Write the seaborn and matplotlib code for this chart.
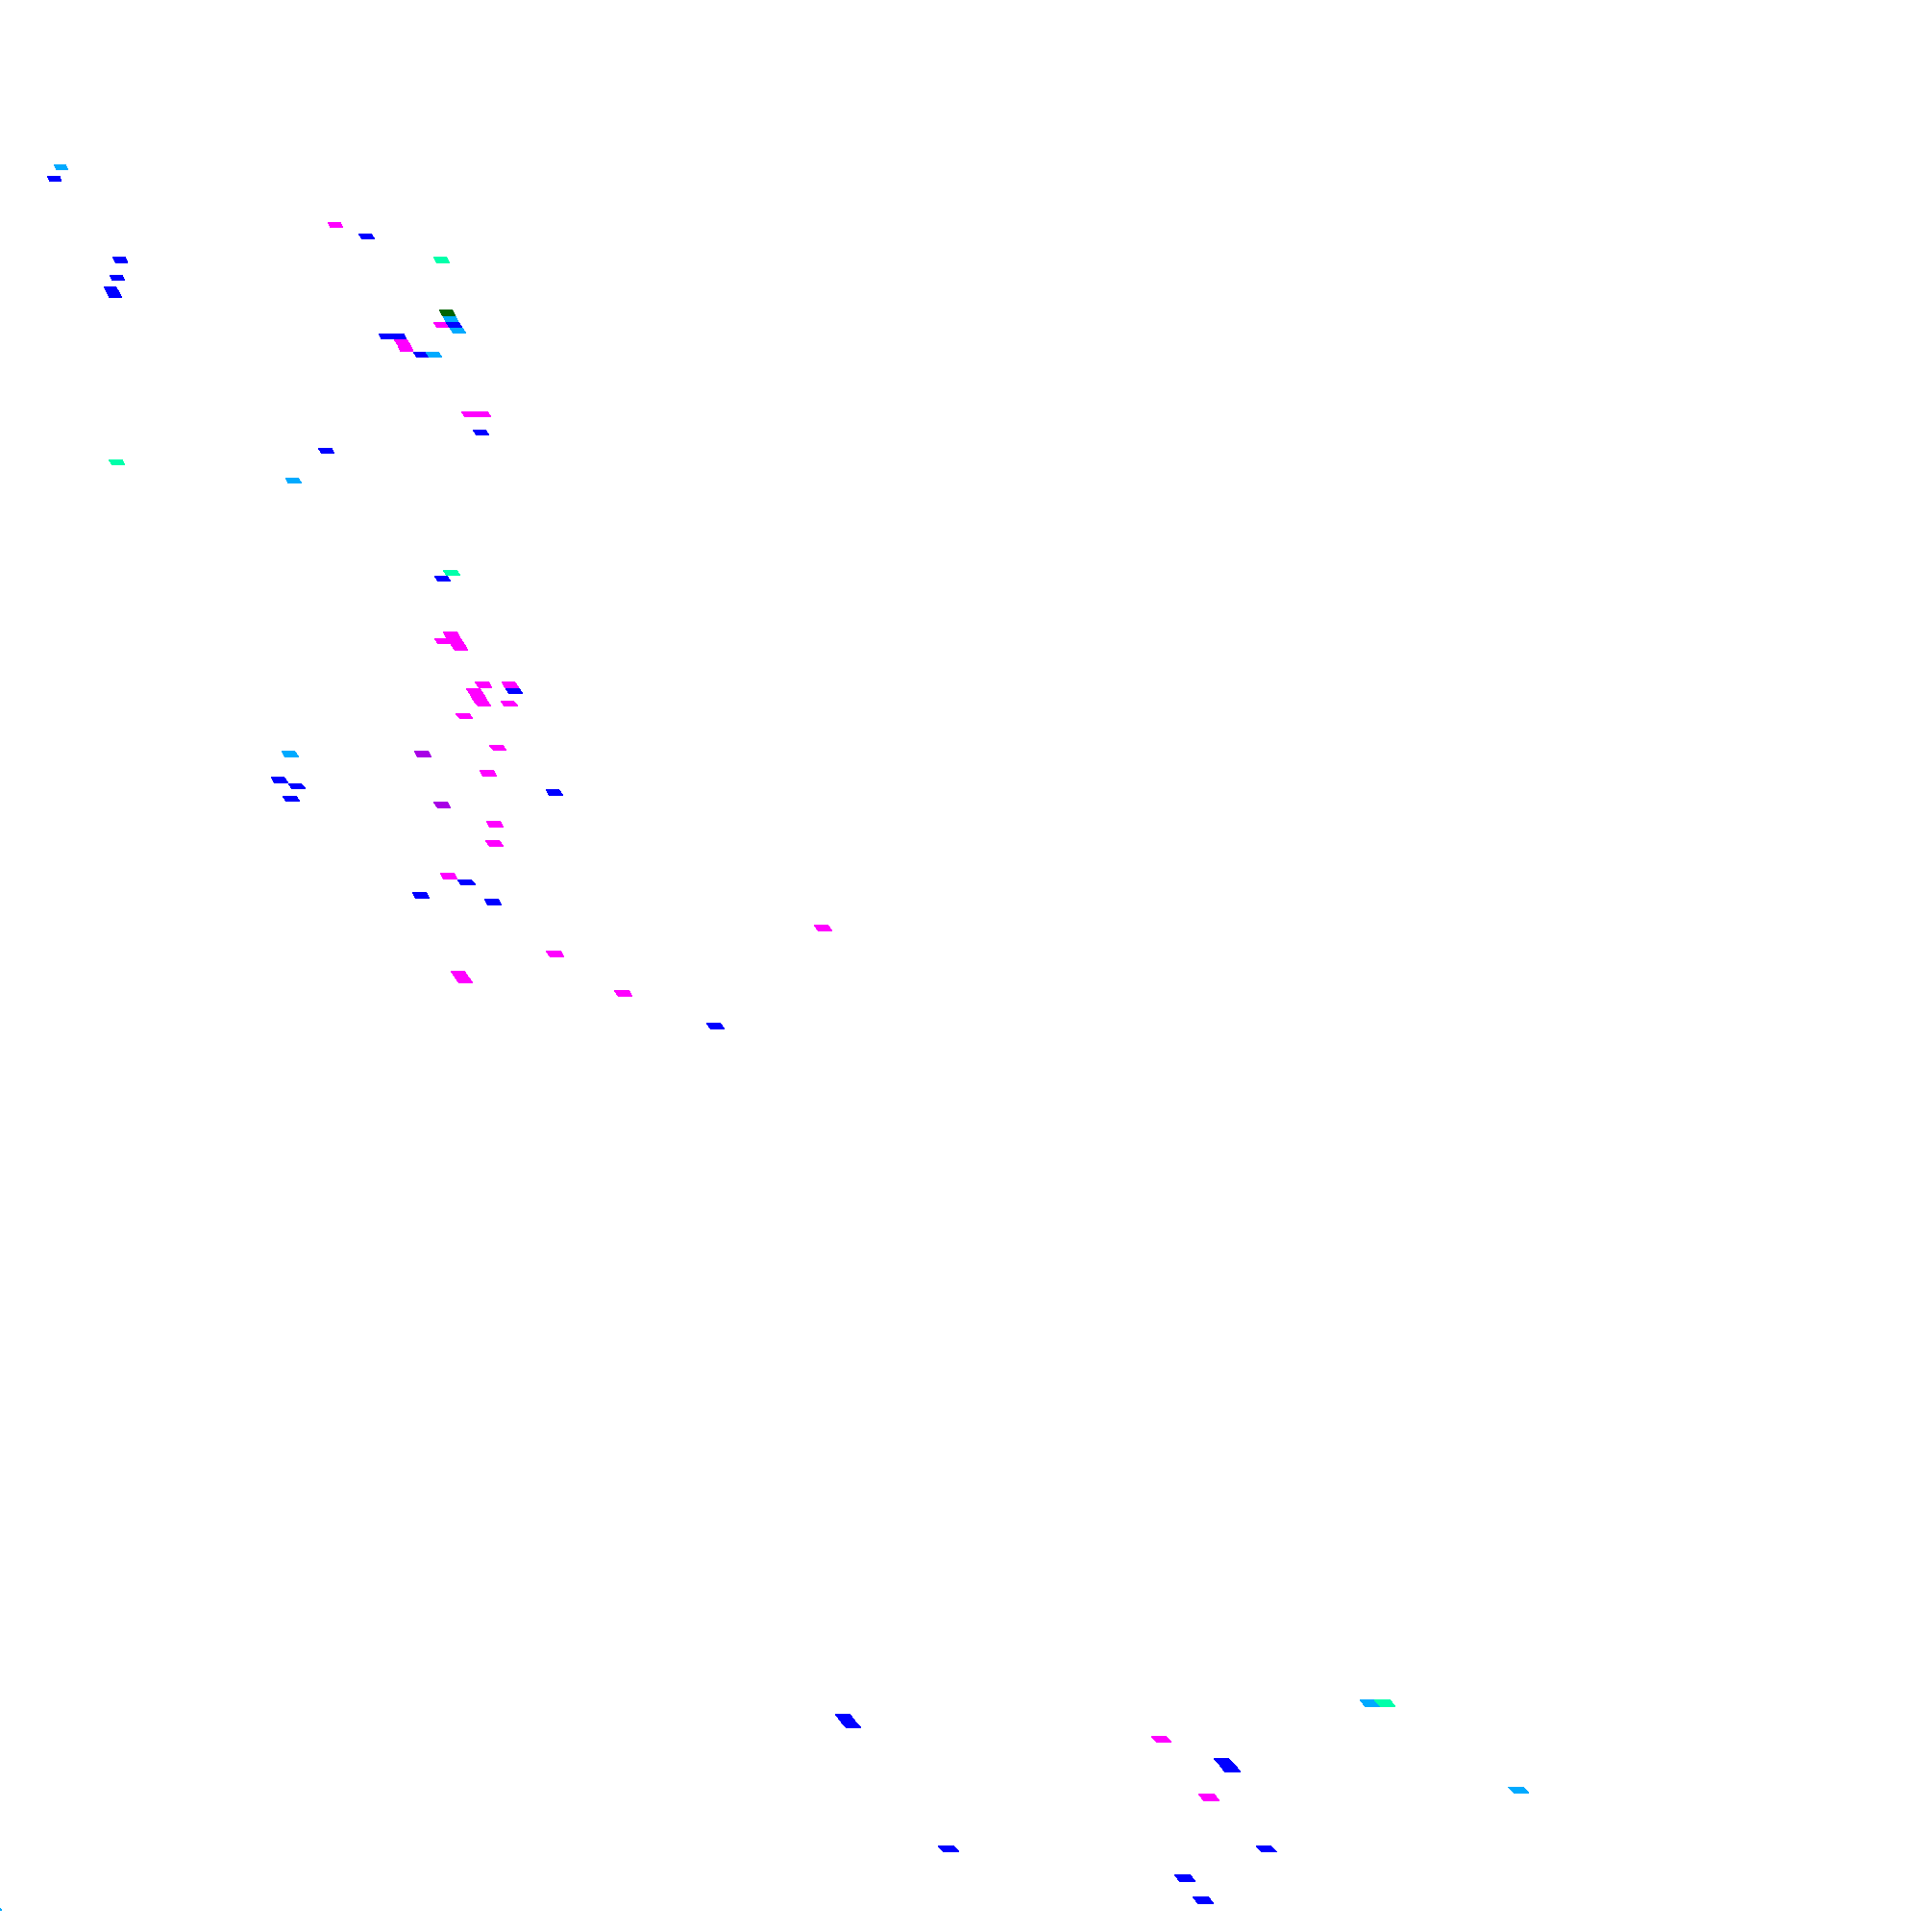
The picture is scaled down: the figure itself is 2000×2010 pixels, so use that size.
import numpy as np
import pandas as pd
import matplotlib
matplotlib.use("Agg")
import matplotlib.pyplot as plt
from matplotlib.colors import ListedColormap
from matplotlib.transforms import Transform
import seaborn as sns

# ---- data: occupied grid cells (row index, column index, category) ----
ROWS = [29, 31, 39, 41, 45, 45, 48, 50, 51,
        54, 55, 56, 56, 57,
        58, 58, 59, 60, 61, 61,
        71, 71, 74, 77, 79, 82,
        97, 98,
        107, 108, 108, 109,
        115, 116, 117, 118, 115, 116, 118, 120,
        126, 126, 125, 129, 130, 131, 132, 133, 134,
        137, 140, 145, 146, 148, 149, 153, 157, 160, 161, 163, 168,
        268, 269, 271, 266, 266, 274, 275, 279, 278, 286, 286, 290, 293, 294]
COLS = [88, 87, 108, 110, 115, 89, 88, 87, 87,
        113, 113, 112, 113, 113,
        107, 108, 108, 108, 109, 110,
        110, 111, 110, 97, 80, 93,
        101, 100,
        98, 97, 98, 98,
        98, 97, 97, 97, 100, 100, 99, 95,
        80, 90, 96, 94, 78, 79, 98, 78, 89,
        92, 91, 86, 87, 83, 88, 111, 90, 82, 82, 93, 98,
        71, 71, 91, 107, 108, 94, 94, 91, 112, 71, 92, 85, 85, 5]
CATS = [1, 0, 3, 0, 2, 0, 0, 0, 0,
        5, 1, 3, 0, 1,
        0, 0, 3, 3, 0, 1,
        3, 3, 0, 0, 2, 1,
        2, 0,
        3, 3, 3, 3,
        3, 3, 3, 3, 3, 0, 3, 3,
        1, 4, 3, 3, 0, 0, 0, 0, 4,
        3, 3, 3, 0, 0, 0, 3, 3, 3, 3, 3, 0,
        0, 0, 3, 1, 2, 0, 0, 3, 1, 0, 0, 0, 0, 1]
CATEGORY_COLORS = ['#0000FF', '#00AAFF', '#00FFAA', '#FF00FF', '#A800E6', '#006400']

# ---- grid geometry (projection of the cell grid onto the image) ----
A, B = 5.8, 0.003188          # row -> vertical position
D1, D2 = 2.6, 0.0065          # row -> horizontal lean
CW0, CW1 = 12.3, 0.012        # row -> cell width
C0 = 90
NR, NC = 298, 260

grid = np.full((NR, NC), np.nan)
for r, c, k in zip(ROWS, COLS, CATS):
    grid[r, c] = k


class GridProjection(Transform):
    input_dims = 2
    output_dims = 2

    def transform_non_affine(self, values):
        v = np.asarray(values, float)
        c, r = v[:, 0], v[:, 1]
        px = (CW0 + CW1 * r) * (c - C0) + D1 * r + D2 * r * r
        py = A * r + B * r * r
        return np.column_stack([px, py])


fig = plt.figure(figsize=(20, 20.1), dpi=100)
ax = fig.add_axes([0, 0, 1, 1])
sns.heatmap(pd.DataFrame(grid), ax=ax, cmap=ListedColormap(CATEGORY_COLORS),
            vmin=-0.5, vmax=len(CATEGORY_COLORS) - 0.5,
            cbar=False, xticklabels=False, yticklabels=False)
mesh = ax.collections[0]
mesh.set_transform(GridProjection() + ax.transData)
ax.set_xlim(0, 2000)
ax.set_ylim(2010, 0)
ax.set_axis_off()
fig.savefig("out.png", dpi=100, facecolor='white')
